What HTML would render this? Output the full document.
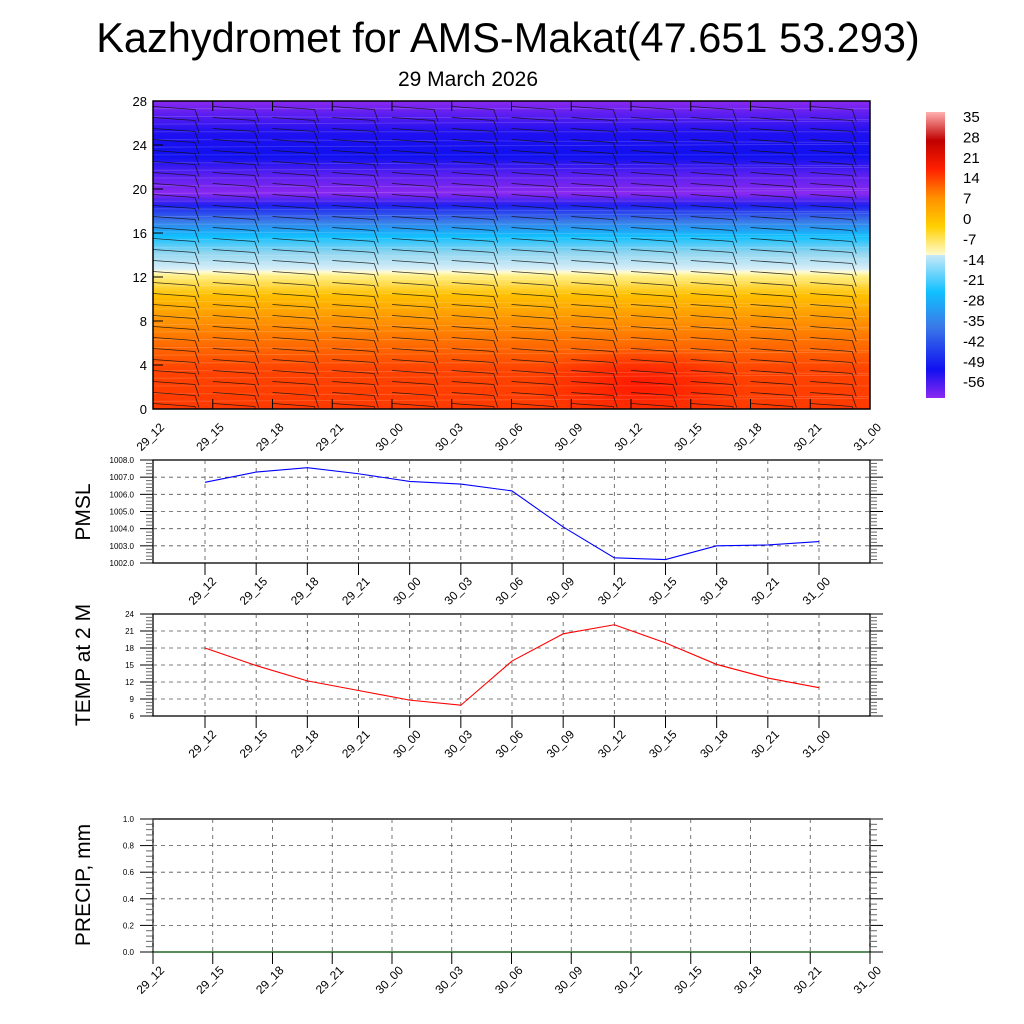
<!DOCTYPE html>
<html><head><meta charset="utf-8"><style>
body{margin:0;background:#fff}
svg{display:block;font-family:"Liberation Sans",sans-serif}
</style></head><body>
<svg id="s" width="1024" height="1024" viewBox="0 0 1024 1024" xmlns="http://www.w3.org/2000/svg">
<defs>
<linearGradient id="tg" x1="0" y1="1" x2="0" y2="0">
<stop offset="0" stop-color="#ff3a00"/>
<stop offset="0.13" stop-color="#ff4400"/>
<stop offset="0.27" stop-color="#ff8a00"/>
<stop offset="0.37" stop-color="#ffc000"/>
<stop offset="0.43" stop-color="#ffee80"/>
<stop offset="0.445" stop-color="#fffbd0"/>
<stop offset="0.455" stop-color="#d8eef8"/>
<stop offset="0.51" stop-color="#8cd4f0"/>
<stop offset="0.56" stop-color="#10c0ff"/>
<stop offset="0.61" stop-color="#3a7ae8"/>
<stop offset="0.66" stop-color="#1e20f0"/>
<stop offset="0.70" stop-color="#8a28f0"/>
<stop offset="0.76" stop-color="#5a20f0"/>
<stop offset="0.82" stop-color="#1010f0"/>
<stop offset="0.90" stop-color="#2010f0"/>
<stop offset="1" stop-color="#8a28f0"/>
</linearGradient>
<radialGradient id="hot" cx="0.5" cy="0.5" r="0.5">
<stop offset="0" stop-color="#ff1000" stop-opacity="0.8"/>
<stop offset="1" stop-color="#ff1000" stop-opacity="0"/>
</radialGradient>
<linearGradient id="cb" x1="0" y1="1" x2="0" y2="0">
<stop offset="0" stop-color="#8a28f0"/>
<stop offset="0.1" stop-color="#1010f0"/>
<stop offset="0.25" stop-color="#3a7ae8"/>
<stop offset="0.37" stop-color="#10c0ff"/>
<stop offset="0.5" stop-color="#c8e8f8"/>
<stop offset="0.5" stop-color="#fffbd0"/>
<stop offset="0.6" stop-color="#ffd000"/>
<stop offset="0.7" stop-color="#ff9000"/>
<stop offset="0.8" stop-color="#ff2000"/>
<stop offset="0.9" stop-color="#c00000"/>
<stop offset="1" stop-color="#ffb0b0"/>
</linearGradient>
<clipPath id="cp"><rect x="153" y="101" width="717" height="308"/></clipPath>
</defs>
<text x="508" y="52" font-size="41.5" text-anchor="middle">Kazhydromet for AMS-Makat(47.651 53.293)</text>
<text x="468" y="86" font-size="21" text-anchor="middle">29 March 2026</text>
<g id="topPanel"></g>
<g id="cbar"></g>
<g id="p1"></g>
<g id="p2"></g>
<g id="p3"></g>
</svg>
<script>
const timeLabels=["29_12","29_15","29_18","29_21","30_00","30_03","30_06","30_09","30_12","30_15","30_18","30_21","31_00"];
const pmslValues=[1006.7,1007.3,1007.55,1007.2,1006.75,1006.6,1006.2,1004.1,1002.3,1002.2,1003.0,1003.05,1003.25];
const tempValues=[18,14.9,12.2,10.5,8.8,7.9,15.7,20.5,22.1,18.9,15.1,12.7,11.0];
const precipValues=[0,0,0,0,0,0,0,0,0,0,0,0,0];
const pmslTicks=["1002.0","1003.0","1004.0","1005.0","1006.0","1007.0","1008.0"];
const tempTicks=[6,9,12,15,18,21,24];
const precipTicks=["0.0","0.2","0.4","0.6","0.8","1.0"];
const heightTicks=[0,4,8,12,16,20,24,28];
const cbLabels=[35,28,21,14,7,0,-7,-14,-21,-28,-35,-42,-49,-56];
const NS="http://www.w3.org/2000/svg";
function mk(p,t,a){const e=document.createElementNS(NS,t);for(const k in a)e.setAttribute(k,a[k]);p.appendChild(e);return e;}
function txt(p,x,y,s,fs,anc,rot){const t=mk(p,'text',{x:x,y:y,'font-size':fs,'text-anchor':anc||'start'});if(rot)t.setAttribute('transform',`rotate(${rot} ${x} ${y})`);t.textContent=s;return t;}

const tp=document.getElementById('topPanel');
const tx=i=>153+i*(717/12), ty=v=>409-v*(308/28);
mk(tp,'rect',{x:153,y:101,width:717,height:308,fill:'url(#tg)'});
const g=mk(tp,'g',{'clip-path':'url(#cp)'});
mk(g,'ellipse',{cx:640,cy:385,rx:110,ry:40,fill:'url(#hot)'});
for(let k=0;k<40;k++){mk(g,'line',{x1:153,x2:870,y1:101+k*7.7,y2:101+k*7.7+((k%3)-1)*3,stroke:'#fff','stroke-opacity':0.18,'stroke-width':0.8});}
for(let i=0;i<13;i++){for(let r=0;r<28;r++){const x=tx(i),y=ty(r+0.5);
 mk(g,'line',{x1:x,y1:y,x2:x+42,y2:y+3,stroke:'#111','stroke-width':0.8,'stroke-opacity':0.85});
 mk(g,'line',{x1:x+42,y1:y+3,x2:x+46,y2:y+15,stroke:'#111','stroke-width':0.8,'stroke-opacity':0.85});}}
mk(tp,'rect',{x:153,y:101,width:717,height:308,fill:'none',stroke:'#000','stroke-width':1.5});
heightTicks.forEach(v=>{txt(tp,147,ty(v)+5,String(v),13,'end');mk(tp,'line',{x1:153,x2:163,y1:ty(v),y2:ty(v),stroke:'#000'});});
timeLabels.forEach((s,i)=>{const x=tx(i);mk(tp,'line',{x1:x,x2:x,y1:409,y2:399,stroke:'#000'});mk(tp,'line',{x1:x,x2:x,y1:101,y2:111,stroke:'#000'});txt(tp,x+12,428,s,12,'end',-45);});

const cbar=document.getElementById('cbar');
mk(cbar,'rect',{x:926,y:112,width:19,height:286,fill:'url(#cb)'});
cbLabels.forEach((v,i)=>txt(cbar,963,122+i*20.4,String(v),15,'start'));

function panel(id,y0,y1,ticks,vals,vmin,vmax,color,xsFn,labX,title,titleY,labelYoff){
 const p=document.getElementById(id);
 const sy=v=>y1-(v-vmin)/(vmax-vmin)*(y1-y0);
 mk(p,'rect',{x:153,y:y0,width:717,height:y1-y0,fill:'none',stroke:'#000','stroke-width':1.3});
 const n=ticks.length;
 ticks.forEach((t,k)=>{const v=vmin+k*(vmax-vmin)/(n-1),y=sy(v);
  txt(p,134,y+3,String(t),8,'end');
  mk(p,'line',{x1:140,x2:153,y1:y,y2:y,stroke:'#000'});mk(p,'line',{x1:870,x2:883,y1:y,y2:y,stroke:'#000'});
  if(k>0&&k<n-1)mk(p,'line',{x1:153,x2:870,y1:y,y2:y,stroke:'#555','stroke-dasharray':'4,4','stroke-width':0.8});
  if(k<n-1)for(let m=1;m<5;m++){const ym=y-(m/5)*((y1-y0)/(n-1));mk(p,'line',{x1:146,x2:153,y1:ym,y2:ym,stroke:'#666'});mk(p,'line',{x1:870,x2:877,y1:ym,y2:ym,stroke:'#666'});}
 });
 timeLabels.forEach((s,i)=>{const x=labX(i);
  mk(p,'line',{x1:x,x2:x,y1:y0,y2:y1,stroke:'#555','stroke-dasharray':'4,4','stroke-width':0.8});
  mk(p,'line',{x1:x,x2:x,y1:y1,y2:y1+12,stroke:'#000'});
  txt(p,x+12,y1+labelYoff,s,12,'end',-45);});
 const pts=vals.map((v,i)=>xsFn(i)+','+sy(v)).join(' ');
 const pl=mk(p,'polyline',{points:pts,fill:'none',stroke:color,'stroke-width':1.1});
 
 
 txt(p,90,titleY,title,21,'middle',-90);
}
const lx=i=>205+i*(614/12);
panel('p1',460,563,pmslTicks,pmslValues,1002,1008,'#0000ff',lx,lx,'PMSL',512,19);
panel('p2',614,716,tempTicks,tempValues,6,24,'#ff0000',lx,lx,'TEMP at 2 M',665,19);
panel('p3',819,952,precipTicks,precipValues,0,1,'#006400',i=>tx(i),i=>tx(i),'PRECIP, mm',885,19);
</script>
</body></html>
